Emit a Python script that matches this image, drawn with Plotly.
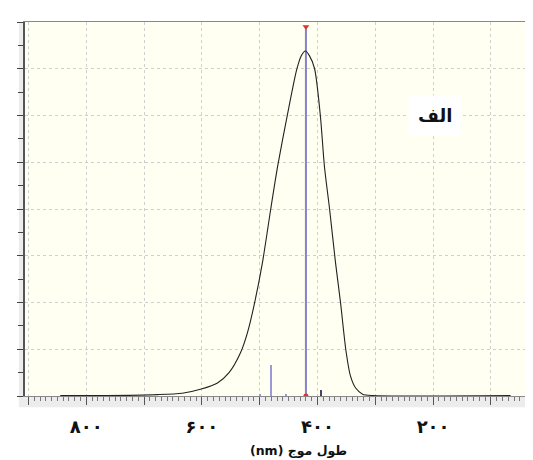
import plotly.graph_objects as go

# Spectrum curve (wavelength nm -> absorbance, arbitrary units)
wavelength = [845, 764, 677, 634, 601, 573, 553, 533, 521, 509, 495, 481, 469,
              452, 436, 428, 421, 414, 405, 395, 388, 379, 369, 360, 351, 343, 334,
              322, 305, 66]
absorbance = [0.01, 0.01, 0.03, 0.06, 0.15, 0.28, 0.50, 0.93, 1.36, 1.98, 2.87, 3.99,
              4.91, 6.02, 6.98, 7.28, 7.38, 7.28, 7.00, 5.99, 4.91, 3.99, 2.87,
              1.98, 0.99, 0.43, 0.17, 0.04, 0.01, 0.01]

# Stick marks near the baseline
stick_x = [500, 481, 455, 395]
stick_h = [0.03, 0.67, 0.03, 0.13]
stick_color = ["#9a9ad6", "#9a9ad6", "#9a9ad6", "#444466"]

# Peak marker line
peak_x = 420
peak_top = 7.9

tick_text = ["\u06f8\u06f0\u06f0", "\u06f6\u06f0\u06f0", "\u06f4\u06f0\u06f0", "\u06f2\u06f0\u06f0"]
x_title = "\u202bطول موج (nm)\u202c"
panel_label = "الف"

fig = go.Figure()

fig.add_trace(go.Bar(x=stick_x, y=stick_h, width=2.6, marker=dict(color=stick_color, line=dict(width=0)),
                     hoverinfo="skip"))

fig.add_trace(go.Scatter(x=[peak_x, peak_x], y=[0, peak_top], mode="lines",
                         line=dict(color="#8383cc", width=2), hoverinfo="skip"))

fig.add_trace(go.Scatter(x=wavelength, y=absorbance, mode="lines",
                         line=dict(color="#222222", width=1.1, shape="spline", smoothing=0.7),
                         hoverinfo="skip"))

fig.add_trace(go.Scatter(x=[peak_x], y=[peak_top], mode="markers",
                         marker=dict(symbol="triangle-down", color="#e03030", size=6), hoverinfo="skip"))
fig.add_trace(go.Scatter(x=[peak_x], y=[0], mode="markers",
                         marker=dict(symbol="circle", color="#e03030", size=5), hoverinfo="skip"))

fig.add_annotation(x=0.802, y=0.751, xref="paper", yref="paper", xanchor="center", yanchor="middle",
                   text="<b>" + panel_label + "</b>",
                   showarrow=False, font=dict(family="DejaVu Sans", size=18, color="#111111"),
                   bgcolor="#ffffff", borderpad=9)

fig.add_annotation(x=0.536, y=-0.146, xref="paper", yref="paper", xanchor="center", yanchor="middle",
                   text="<b>" + x_title + "</b>",
                   showarrow=False, font=dict(family="DejaVu Sans", size=12.5, color="#111111"))

# light grey strips along axes
fig.add_shape(type="rect", xref="paper", yref="paper", x0=-0.012, x1=0, y0=-0.03, y1=1,
              fillcolor="#ececec", line=dict(width=0), layer="below")
fig.add_shape(type="rect", xref="paper", yref="paper", x0=0, x1=1, y0=-0.03, y1=0,
              fillcolor="#ececec", line=dict(width=0), layer="below")

fig.update_layout(
    width=533, height=460,
    margin=dict(l=17, r=5, t=14, b=72),
    paper_bgcolor="#ffffff",
    plot_bgcolor="#fffff2",
    showlegend=False,
    bargap=0,
    xaxis=dict(
        range=[906, 22], showgrid=True, gridcolor="#cfcfcf", griddash="dot", gridwidth=1,
        tickmode="array", tickvals=[900, 800, 700, 600, 500, 400, 300, 200, 100],
        ticktext=["", tick_text[0], "", tick_text[1], "", tick_text[2], "", tick_text[3], ""],
        ticks="outside", ticklen=8, tickcolor="#555555", tickwidth=1,
        minor=dict(dtick=10, ticks="outside", ticklen=4, tickcolor="#777777", showgrid=False),
        showline=True, linecolor="#888888", linewidth=1, mirror=True,
        zeroline=False, ticklabelstandoff=6,
        tickfont=dict(family="DejaVu Sans", size=18, color="#111111", weight="bold"),
    ),
    yaxis=dict(
        range=[0, 8], showgrid=True, gridcolor="#cfcfcf", griddash="dot", gridwidth=1,
        dtick=1, tick0=0, showticklabels=False,
        ticks="outside", ticklen=6, tickcolor="#444444",
        minor=dict(dtick=0.5, ticks="outside", ticklen=5, tickcolor="#444444", showgrid=False),
        showline=True, linecolor="#555555", linewidth=1.5, zeroline=False,
    ),
)

fig.write_html("out.html")
